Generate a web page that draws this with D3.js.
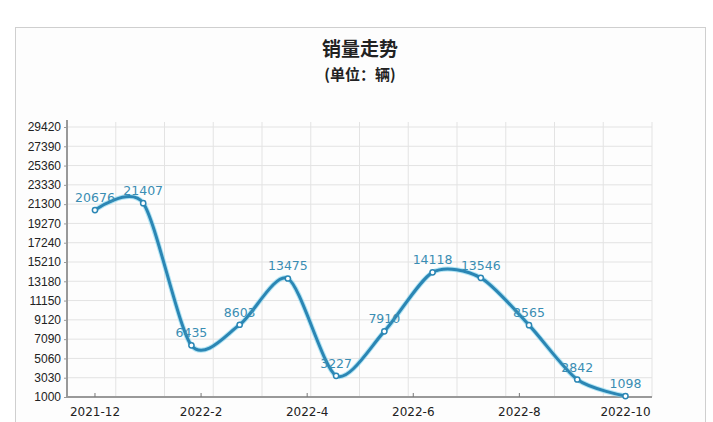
<!DOCTYPE html>
<html><head><meta charset="utf-8">
<script src="https://cdn.jsdelivr.net/npm/d3@7"></script>
<style>body{margin:0;background:#fff;}svg{display:block;font-family:"DejaVu Sans",Verdana,sans-serif;}</style>
</head><body><svg id="c" width="713" height="422"></svg>
<script>
const categories = ["2021-12","2022-1","2022-2","2022-3","2022-4","2022-5","2022-6","2022-7","2022-8","2022-9","2022-10","2022-10b"];
const values = [20676,21407,6435,8603,13475,3227,7910,14118,13546,8565,2842,1098];
const yTicks = [1000,3030,5060,7090,9120,11150,13180,15210,17240,19270,21300,23330,25360,27390,29420];
const xTickLabels = ["2021-12","2022-2","2022-4","2022-6","2022-8","2022-10"];

const svg = d3.select("#c");
svg.append("rect").attr("x",15.5).attr("y",27.5).attr("width",690).attr("height",400)
  .attr("fill","#fdfdfd").attr("stroke","#cfcfcf");
svg.append("text").attr("x",360).attr("y",56).attr("text-anchor","middle")
  .attr("font-family","'Noto Sans CJK SC',sans-serif").attr("font-weight","bold").attr("font-size",19).attr("fill","#222").text("销量走势");
svg.append("text").attr("x",360).attr("y",80).attr("text-anchor","middle")
  .attr("font-family","'Noto Sans CJK SC',sans-serif").attr("font-weight","bold").attr("font-size",15).attr("fill","#222").text("(单位：辆)");

const L=67,R=652,T=127,B=397;
const x = d3.scaleLinear().domain([-0.58,11.55]).range([L,R]);
const y = d3.scaleLinear().domain([1000,29420]).range([B,T]);

const g = svg.append("g");
// horizontal grid
g.selectAll(".hg").data(yTicks).join("line").attr("x1",L).attr("x2",R)
  .attr("y1",d=>y(d)).attr("y2",d=>y(d)).attr("stroke","#e3e3e3");
// vertical grid
const vg = d3.range(13).map(i=>L+i*(R-L)/12);
g.selectAll(".vg").data(vg).join("line").attr("x1",d=>d).attr("x2",d=>d)
  .attr("y1",T-5).attr("y2",B).attr("stroke","#e3e3e3");

// y axis
const yAx = svg.append("g").attr("transform",`translate(${L},0)`)
  .call(d3.axisLeft(y).tickValues(yTicks).tickSize(3).tickFormat(d3.format("d")));
yAx.select(".domain").attr("stroke","#999").attr("stroke-width",2).attr("d",`M0,${T-7}V${B}`);
yAx.selectAll(".tick line").attr("stroke","#999");
yAx.selectAll("text").attr("font-size",12).attr("fill","#222").attr("x",-6);

// x axis
const xt = xTickLabels.map((l,i)=>({l, v: i*11/5}));
const xg = svg.append("g").attr("transform",`translate(0,${B})`);
xg.append("line").attr("x1",L).attr("x2",R).attr("stroke","#999").attr("stroke-width",2);
xg.selectAll(".t").data(xt).join("line").attr("x1",d=>x(d.v)).attr("x2",d=>x(d.v))
  .attr("y1",-4).attr("y2",0).attr("stroke","#777");
xg.selectAll(".tl").data(xt).join("text").attr("x",d=>x(d.v)).attr("y",19)
  .attr("text-anchor","middle").attr("font-size",12).attr("fill","#222").text(d=>d.l);

// line
const line = d3.line().x((d,i)=>x(i)).y(d=>y(d)).curve(d3.curveCardinal.tension(0.2));
svg.append("path").datum(values).attr("d",line).attr("fill","none")
  .attr("stroke","#7fd3ee").attr("stroke-width",5).attr("opacity",0.6);
svg.append("path").datum(values).attr("d",line).attr("fill","none")
  .attr("stroke","#2b86b4").attr("stroke-width",3);
svg.selectAll(".pt").data(values).join("circle").attr("cx",(d,i)=>x(i)).attr("cy",d=>y(d))
  .attr("r",2.6).attr("fill","#fff").attr("stroke","#2b86b4").attr("stroke-width",1.5);
svg.selectAll(".lb").data(values).join("text").attr("x",(d,i)=>x(i)).attr("y",d=>y(d)-8)
  .attr("text-anchor","middle").attr("font-size",12.5).attr("fill","#3a8db3").text(d=>d);
</script></body></html>
